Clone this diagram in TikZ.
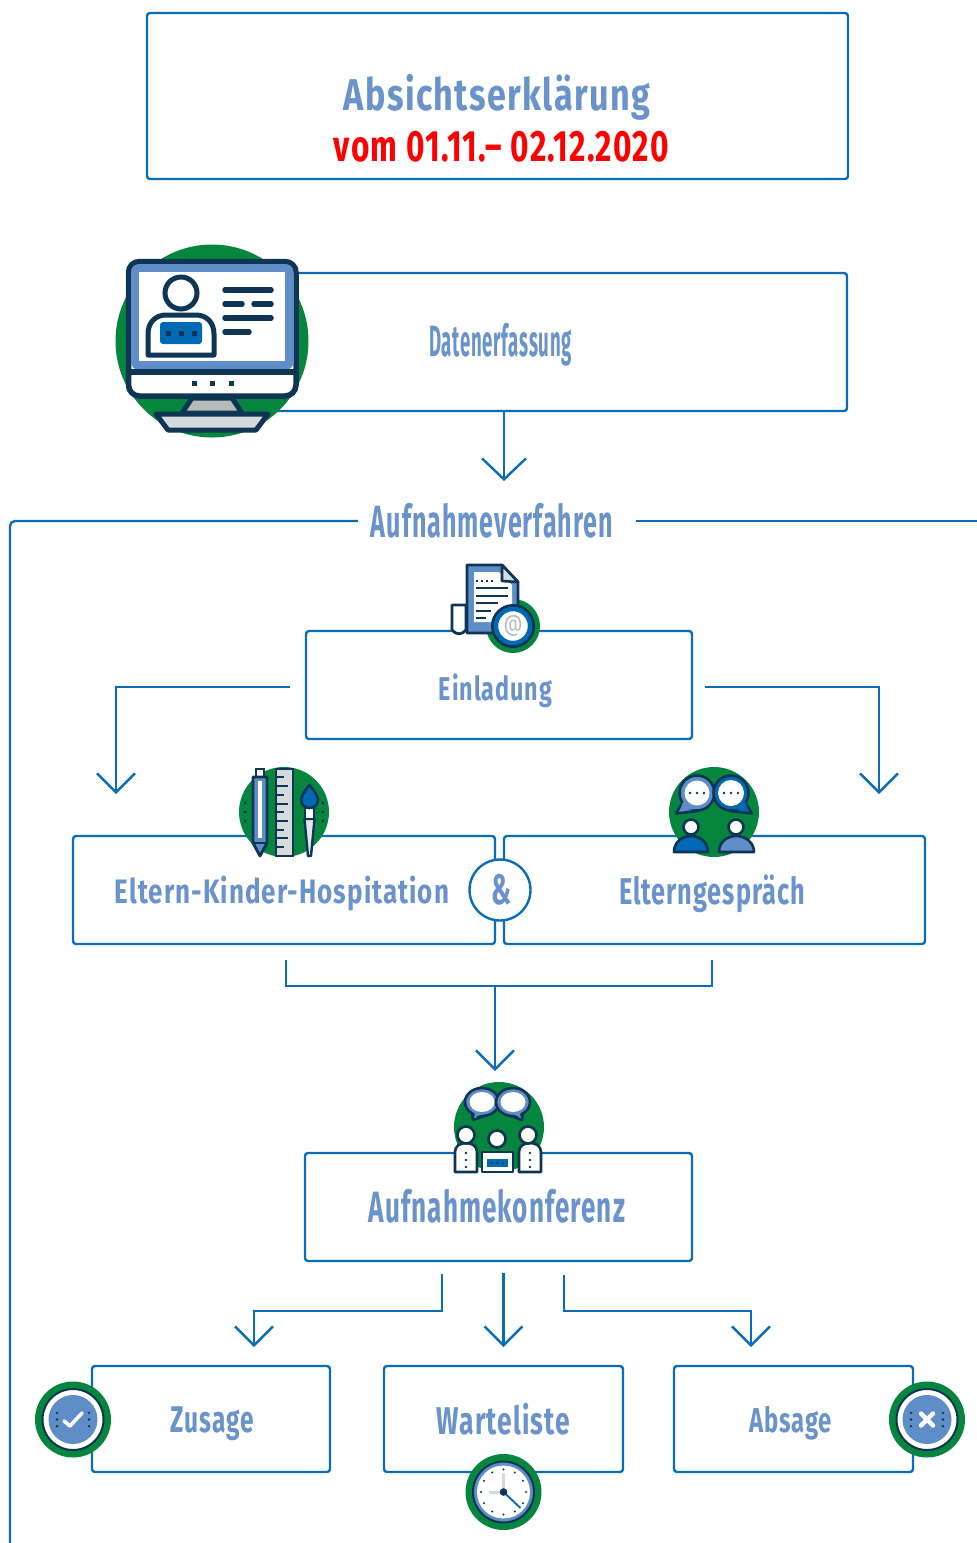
\documentclass[tikz,border=0pt]{standalone}
\usepackage{fontspec}
\usepackage{graphicx}
\setmainfont[LetterSpace=4]{Fira Sans}
\usetikzlibrary{arrows.meta}
\definecolor{lineblue}{HTML}{0B6DB5}
\definecolor{txtblue}{HTML}{6A92CB}
\definecolor{midblue}{HTML}{5F8DC8}
\definecolor{navy}{HTML}{0E3554}
\definecolor{iconblue}{HTML}{0069B4}
\definecolor{icongreen}{HTML}{06853E}
\definecolor{icongrey}{HTML}{D5DBDB}
\definecolor{stopred}{HTML}{FF0000}
\newcommand{\fitlabel}[3]{\resizebox*{#1pt}{#2pt}{#3}}
\tikzset{
  flowbox/.style={draw=lineblue,line width=2.4pt,rounded corners=3pt,fill=white,inner sep=0pt},
  flowlabel/.style={inner sep=0pt,outer sep=0pt,text=txtblue,font=\bfseries},
  conn/.style={draw=lineblue,line width=2.4pt,rounded corners=0pt},
  arrowconn/.style={conn,-{Straight Barb[length=19pt,width=38pt,line width=2.4pt]}}
}
\begin{document}
\begin{tikzpicture}[x=1pt,y=-1pt]
\useasboundingbox (0,0) rectangle (977,1543);
\clip (0,0) rectangle (977,1543);

% ---------- boxes
\node[flowbox,minimum width=701pt,minimum height=166pt] (title) at (497.5,96) {};
\node[flowbox,minimum width=597pt,minimum height=138pt] (daten) at (548.5,342) {};
\node[flowbox,minimum width=386pt,minimum height=108pt] (einl) at (499,685) {};
\node[flowbox,minimum width=422pt,minimum height=108pt] (hosp) at (284,890) {};
\node[flowbox,minimum width=421pt,minimum height=108pt] (gespr) at (714.5,890) {};
\node[flowbox,minimum width=387pt,minimum height=108pt] (konf) at (498.5,1207) {};
\node[flowbox,minimum width=238pt,minimum height=106pt] (zus) at (211,1419) {};
\node[flowbox,minimum width=239pt,minimum height=106pt] (wart) at (503.5,1419) {};
\node[flowbox,minimum width=239pt,minimum height=106pt] (abs) at (793.5,1419) {};
\node[draw=lineblue,line width=2.4pt,circle,fill=white,minimum size=61pt,inner sep=0pt] (und) at (500,890) {};

% ---------- frame of the Aufnahmeverfahren section
\node[flowlabel] (verf) at (492,520.5) {\fitlabel{242}{35}{Aufnahmeverfahren}};
\coordinate (frL) at (358,521);
\coordinate (frR) at (636,521);
\coordinate (frLend) at (10,1545);
\coordinate (frRend) at (980,521);
\draw[conn,rounded corners=5pt] (frL) -- (10,521) -- (frLend);
\draw[conn] (frR) -- (frRend);

% ---------- connectors
\coordinate (a1s) at (504,411);
\coordinate (a1e) at (504,481);
\draw[arrowconn,-{Straight Barb[length=21pt,width=44pt,line width=2.4pt]}] (a1s) -- (a1e);
\coordinate (elo) at (290,687);
\coordinate (ele) at (116,794);
\draw[arrowconn] (elo) -- (116,687) -- (ele);
\coordinate (ero) at (705,687);
\coordinate (ere) at (879,794);
\draw[arrowconn] (ero) -- (879,687) -- (ere);
\coordinate (brL) at (286,960);
\coordinate (brR) at (712,960);
\coordinate (brM) at (495,986);
\coordinate (brE) at (495,1071);
\draw[conn] (brL) -- (286,986) -- (712,986) -- (brR);
\draw[arrowconn] (brM) -- (brE);
\coordinate (k1s) at (442,1274);
\coordinate (k1e) at (254,1347);
\draw[arrowconn] (k1s) -- (442,1311) -- (254,1311) -- (k1e);
\coordinate (k2s) at (503.5,1273);
\coordinate (k2e) at (503.5,1347);
\draw[arrowconn] (k2s) -- (k2e);
\coordinate (k3s) at (564,1275);
\coordinate (k3e) at (751,1347);
\draw[arrowconn] (k3s) -- (564,1311) -- (751,1311) -- (k3e);

% ---------- labels
\node[flowlabel] (t1) at (497,97) {\fitlabel{306}{46}{Absichtserklärung}};
\node[flowlabel,text=stopred] (t2) at (501.5,147) {\fitlabel{335}{31}{vom 01.11.– 02.12.2020}};
\node[flowlabel] (t3) at (500.5,345) {\fitlabel{143}{43}{Datenerfassung}};
\node[flowlabel] (t4) at (495.5,690.5) {\fitlabel{113}{34}{Einladung}};
\node[flowlabel] (t5) at (282,893.5) {\fitlabel{334}{35}{Eltern-Kinder-Hospitation}};
\node[flowlabel] (t6) at (712,894) {\fitlabel{186}{38}{Elterngespräch}};
\node[flowlabel] (t7) at (497,1206.5) {\fitlabel{256}{34}{Aufnahmekonferenz}};
\node[flowlabel] (t8) at (212.5,1424) {\fitlabel{83}{34}{Zusage}};
\node[flowlabel] (t9) at (503.5,1419) {\fitlabel{133}{32}{Warteliste}};
\node[flowlabel] (t10) at (790.5,1423.5) {\fitlabel{83}{34}{Absage}};
\node[flowlabel] (t11) at (501,889.5) {\fitlabel{20}{31}{\&}};

% ---------- monitor icon
\fill[icongreen] (212,341) circle (96.5);
\fill[white,draw=navy,line width=5.5pt,rounded corners=11pt] (128.5,261.5) rectangle (296,396);
\fill[midblue,rounded corners=8pt] (131,264) -- (293.5,264) -- (293.5,370) -- (131,370) -- cycle;
\draw[navy,line width=5.5pt] (128,372) -- (296,372);
\fill[white] (139,272) rectangle (285,361);
\fill[white,draw=navy,line width=5pt,line join=round] (148,355) -- (148,334) .. controls (148,322) and (156,315) .. (166,315) -- (196,315) .. controls (206,315) and (214,322) .. (214,334) -- (214,355) -- cycle;
\fill[iconblue,rounded corners=3pt] (160,322) -- (202,322) -- (202,344) -- (160,344) -- cycle;
\foreach \dx in {168,181,194} \fill[navy] (\dx-2.5,330.5) rectangle (\dx+2.5,335.5);
\fill[white,draw=navy,line width=5pt] (181,293) circle (16);
\draw[navy,line width=5.5pt,line cap=round] (225,290) -- (271,290) (225,304) -- (242,304) (254,304) -- (271,304) (225,318) -- (271,318) (225,332) -- (249,332);
\foreach \dx in {194,212,231} \fill[navy] (\dx-2.5,380.5) rectangle (\dx+2.5,385.5);
\fill[icongrey!85!black,draw=navy,line width=5pt,line join=round] (192,398) -- (232,398) -- (242,413) -- (182,413) -- cycle;
\fill[icongrey,draw=navy,line width=5pt,line join=round] (156,414) -- (268,414) -- (256,430) -- (168,430) -- cycle;

% ---------- document icon
\fill[icongreen] (513,626) circle (27);
\fill[white,draw=navy,line width=2.8pt,line join=round] (452,605) -- (466,605) -- (466,630) .. controls (462,635) and (456,635) .. (452,630) -- cycle;
\fill[midblue,draw=navy,line width=2.8pt,line join=round] (467,565) -- (502,565) -- (518,582) -- (518,633) -- (467,633) -- cycle;
\fill[white] (474,572) -- (499,572) -- (512,585) -- (512,622) -- (474,622) -- cycle;
\fill[icongrey,draw=navy,line width=2.6pt,line join=round] (502,565) -- (502,581) -- (518,582) -- cycle;
\draw[navy,line width=2pt] (476,588) -- (508,588) (476,596) -- (508,596) (476,603) -- (498,603) (476,611) -- (491,611) (476,618) -- (486,618);
\foreach \dx in {477,482,487,492} \fill[navy] (\dx-1,580) rectangle (\dx+1,582);
\fill[white,draw=navy,line width=3pt] (513,626) circle (20.5);
\draw[iconblue,line width=4.4pt] (513,626) circle (17);
\node[inner sep=0pt,text=icongrey!85!black] (atsign) at (513,626) {\fitlabel{19}{21}{@}};

% ---------- pen, ruler and brush icon
\fill[icongreen] (284,812) circle (45);
\foreach \dy in {803,812,821} {\fill[navy] (245,\dy) circle (1.6); \fill[navy] (323,\dy) circle (1.6);}
\fill[white,draw=navy,line width=2.8pt] (256,769) rectangle (264,777);
\fill[midblue,draw=navy,line width=2.8pt,line join=round] (253,777) -- (267,777) -- (267,843) -- (260,856) -- (253,843) -- cycle;
\fill[white] (258,781) rectangle (262,838);
\draw[navy,line width=1.8pt] (253,843) -- (267,843);
\fill[icongrey,draw=navy,line width=2.8pt] (276,769) rectangle (293,856);
\foreach \ty/\tl in {777/8,786/12,795/8,804/12,812/8,821/12,830/8,838/12,847/8} \draw[navy,line width=2pt] (276,\ty) -- (276+\tl,\ty);
\fill[icongrey!70,draw=navy,line width=2.4pt,line join=round] (304.5,819) -- (314.5,819) -- (311,856) -- (308,856) -- cycle;
\fill[white,draw=navy,line width=2.4pt] (305,807) rectangle (314,819);
\fill[iconblue,draw=navy,line width=2.6pt,line join=round] (309.5,785) .. controls (303,793) and (301,797) .. (301,800) .. controls (301,805) and (305,808) .. (309.5,808) .. controls (314,808) and (318,805) .. (318,800) .. controls (318,797) and (316,793) .. (309.5,785) -- cycle;

% ---------- talking parents icon
\fill[icongreen] (714,812) circle (45);
\fill[midblue,draw=navy,line width=2.6pt,line join=round] (683,802) -- (676,813.5) -- (698,811) -- cycle;
\fill[midblue,draw=navy,line width=2.6pt] (697,793) circle (17.5);
\fill[midblue] (683,802) -- (680,810.5) -- (696,809) -- cycle;
\fill[white] (697,793) circle (12.5);
\fill[iconblue,draw=navy,line width=2.6pt,line join=round] (745,802) -- (752,813.5) -- (730,811) -- cycle;
\fill[iconblue,draw=navy,line width=2.6pt] (731,793) circle (17.5);
\fill[iconblue] (745,802) -- (748,810.5) -- (732,809) -- cycle;
\fill[white] (731,793) circle (13);
\foreach \dx in {690,697,704,724,731,738} \fill[navy] (\dx,793) circle (1.3);
\fill[iconblue,draw=navy,line width=2.6pt,line join=round] (674,852) .. controls (674,842) and (682,836) .. (691,836) .. controls (700,836) and (708,842) .. (708,852) -- cycle;
\fill[midblue,draw=navy,line width=2.6pt,line join=round] (719,852) .. controls (719,842) and (727,836) .. (736,836) .. controls (745,836) and (754,842) .. (754,852) -- cycle;
\fill[white,draw=navy,line width=2.6pt] (691,827) circle (7.5);
\fill[white,draw=navy,line width=2.6pt] (736,827) circle (7.5);

% ---------- conference icon
\fill[icongreen] (499,1127) circle (45);
\fill[midblue,draw=navy,line width=2.6pt,line join=round] (472,1110) -- (473,1120) -- (490,1114) -- cycle;
\fill[midblue,draw=navy,line width=2.6pt] (482,1102) ellipse (17 and 14);
\fill[midblue] (474,1110) -- (475,1117) -- (488,1112) -- cycle;
\fill[white] (482,1102) ellipse (12.5 and 10);
\fill[midblue,draw=navy,line width=2.6pt,line join=round] (523,1110) -- (522,1120) -- (505,1114) -- cycle;
\fill[midblue,draw=navy,line width=2.6pt] (513,1102) ellipse (17 and 14);
\fill[midblue] (521,1110) -- (520,1117) -- (507,1112) -- cycle;
\fill[white] (513,1102) ellipse (12.5 and 10);
\fill[white,draw=navy,line width=2.6pt,line join=round] (455,1172) -- (455,1152) .. controls (455,1146) and (460,1143) .. (466,1143) .. controls (472,1143) and (477,1146) .. (477,1152) -- (477,1172) -- cycle;
\fill[white,draw=navy,line width=2.6pt,line join=round] (519,1172) -- (519,1152) .. controls (519,1146) and (524,1143) .. (530,1143) .. controls (536,1143) and (541,1146) .. (541,1152) -- (541,1172) -- cycle;
\fill[white,draw=navy,line width=2.6pt,line join=round] (482,1172) -- (482,1152) -- (513,1152) -- (513,1172) -- cycle;
\fill[iconblue] (487,1159) rectangle (508,1167);
\foreach \dy in {1153,1160,1167} {\fill[navy] (466,\dy) circle (1.4); \fill[navy] (530,\dy) circle (1.4);}
\foreach \dx in {492,497.5,503} \fill[navy] (\dx,1163) circle (1.2);
\fill[white,draw=navy,line width=2.6pt] (466,1135) circle (8.5);
\fill[white,draw=navy,line width=2.6pt] (528,1135) circle (8.5);
\fill[white,draw=navy,line width=2.6pt] (497,1139) circle (8.5);

% ---------- status badges
\foreach \cx in {73,927} {
  \fill[icongreen] (\cx,1419.5) circle (38);
  \fill[white,draw=navy,line width=2pt] (\cx,1419.5) circle (30.5);
  \fill[midblue] (\cx,1419.5) circle (24.5);
  \foreach \sx in {-16,16} \foreach \sy in {-6.7,0,6.7} \fill[navy] (\cx+\sx,1419.5+\sy) circle (1.3);
}
\draw[white,line width=3.6pt,line cap=round,line join=round] (64,1421) -- (70,1426) -- (82,1413);
\draw[white,line width=4.4pt,line cap=round] (921,1413.5) -- (933,1425.5) (933,1413.5) -- (921,1425.5);

% ---------- clock
\fill[icongreen] (503.5,1492) circle (38);
\fill[midblue,draw=navy,line width=2pt] (503.5,1492) circle (30.5);
\fill[white] (503.5,1492) circle (26.5);
\foreach \ang in {0,30,...,330} \fill[navy] (503.5,1492) ++(\ang:22.5) circle (1.2);
\draw[icongrey,line width=3pt] (503.5,1492) -- (503.5,1473) (503.5,1492) -- (488.5,1492);
\draw[iconblue,line width=1.8pt] (503.5,1492) -- (520.5,1508);
\fill[navy] (503.5,1492) circle (3.8);
\end{tikzpicture}
\end{document}
